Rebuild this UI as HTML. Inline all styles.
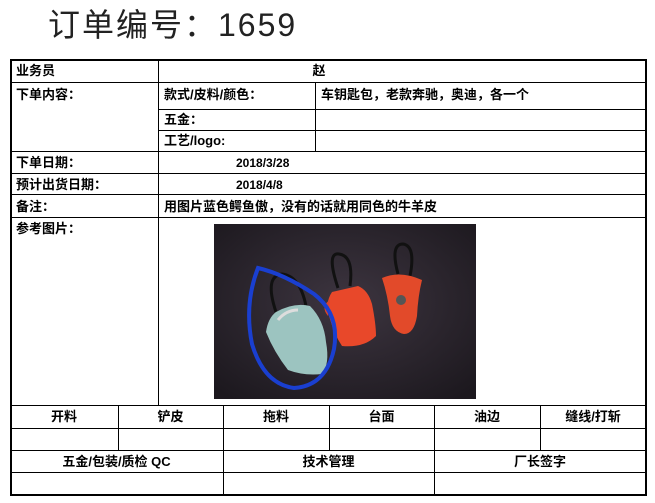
<!DOCTYPE html>
<html><head><meta charset="utf-8"><style>
body{margin:0;width:655px;height:503px;background:#fff;position:relative;overflow:hidden;font-family:"Liberation Sans","Noto Sans CJK SC",sans-serif;color:#000}
.t{position:absolute;left:48px;top:0px;font-size:32px;letter-spacing:2px;color:#222;font-family:"Liberation Sans","Noto Sans CJK SC",sans-serif}
.h{position:absolute;background:#000;height:1px}
.v{position:absolute;background:#000;width:1px}
.l{position:absolute;font-size:13px;font-weight:bold;line-height:16px;white-space:nowrap}
.c{text-align:center}
</style></head><body>
<div class="t">订单编号：1659</div>
<div class="h" style="left:10px;top:59px;width:637px;height:2px"></div>
<div class="h" style="left:10px;top:494px;width:637px;height:2px"></div>
<div class="v" style="left:10px;top:59px;height:437px;width:2px"></div>
<div class="v" style="left:645px;top:59px;height:437px;width:2px"></div>
<div class="h" style="left:10px;top:82px;width:637px"></div>
<div class="h" style="left:158px;top:109px;width:489px"></div>
<div class="h" style="left:158px;top:130px;width:489px"></div>
<div class="h" style="left:10px;top:151px;width:637px"></div>
<div class="h" style="left:10px;top:173px;width:637px"></div>
<div class="h" style="left:10px;top:194px;width:637px"></div>
<div class="h" style="left:10px;top:217px;width:637px"></div>
<div class="h" style="left:10px;top:405px;width:637px"></div>
<div class="h" style="left:10px;top:428px;width:637px"></div>
<div class="h" style="left:10px;top:450px;width:637px"></div>
<div class="h" style="left:10px;top:472px;width:637px"></div>
<div class="v" style="left:158px;top:59px;height:346px"></div>
<div class="v" style="left:315px;top:82px;height:69px"></div>
<div class="v" style="left:118px;top:405px;height:45px"></div>
<div class="v" style="left:223px;top:405px;height:90px"></div>
<div class="v" style="left:329px;top:405px;height:45px"></div>
<div class="v" style="left:434px;top:405px;height:90px"></div>
<div class="v" style="left:540px;top:405px;height:45px"></div>
<div class="l" style="left:16px;top:63px">业务员</div>
<div class="l c" style="left:159px;top:63px;width:320px">赵</div>
<div class="l" style="left:16px;top:87px">下单内容：</div>
<div class="l" style="left:164px;top:87px">款式/皮料/颜色：</div>
<div class="l" style="left:321px;top:87px">车钥匙包，老款奔驰，奥迪，各一个</div>
<div class="l" style="left:164px;top:112px">五金：</div>
<div class="l" style="left:164px;top:133px">工艺/logo:</div>
<div class="l" style="left:16px;top:155px">下单日期：</div>
<div class="l" style="left:236px;top:155px;font-size:12px">2018/3/28</div>
<div class="l" style="left:16px;top:177px">预计出货日期：</div>
<div class="l" style="left:236px;top:177px;font-size:12px">2018/4/8</div>
<div class="l" style="left:16px;top:199px">备注：</div>
<div class="l" style="left:164px;top:199px">用图片蓝色鳄鱼傲，没有的话就用同色的牛羊皮</div>
<div class="l" style="left:16px;top:221px">参考图片：</div>
<div class="l c" style="left:10px;top:409px;width:108px">开料</div>
<div class="l c" style="left:118px;top:409px;width:105px">铲皮</div>
<div class="l c" style="left:223px;top:409px;width:106px">拖料</div>
<div class="l c" style="left:329px;top:409px;width:105px">台面</div>
<div class="l c" style="left:434px;top:409px;width:106px">油边</div>
<div class="l c" style="left:540px;top:409px;width:106px">缝线/打斩</div>
<div class="l c" style="left:10px;top:454px;width:213px">五金/包装/质检 QC</div>
<div class="l c" style="left:223px;top:454px;width:211px">技术管理</div>
<div class="l c" style="left:434px;top:454px;width:212px">厂长签字</div>
<svg style="position:absolute;left:214px;top:224px" width="262" height="175" viewBox="0 0 262 175">
<defs><radialGradient id="g" cx="50%" cy="45%" r="70%"><stop offset="0" stop-color="#3d3540"/><stop offset="1" stop-color="#1c181e"/></radialGradient></defs>
<rect width="262" height="175" fill="url(#g)"/>
<path d="M62 88 Q50 52 68 50 Q86 52 92 82" fill="none" stroke="#111" stroke-width="3"/>
<path d="M124 64 Q112 28 125 30 Q140 32 136 62" fill="none" stroke="#111" stroke-width="3"/>
<path d="M184 50 Q176 20 189 20 Q202 22 196 52" fill="none" stroke="#111" stroke-width="3"/>
<path d="M168 54 Q186 46 208 56 Q204 72 203 92 Q200 110 190 110 Q178 108 176 92 Q174 72 168 54Z" fill="#e24a2a"/>
<circle cx="187" cy="76" r="5" fill="#555"/>
<path d="M118 68 L144 62 Q154 66 158 80 Q162 100 162 112 Q150 124 128 122 Q120 110 116 95 Q110 80 118 68Z" fill="#e8482a"/>
<path d="M114 92 Q106 82 116 76" fill="#d9452a"/>
<path d="M62 88 Q80 78 96 82 Q110 96 112 118 Q116 140 108 150 Q90 152 74 146 Q60 128 52 108 Q54 94 62 88Z" fill="#9cc4c0"/>
<path d="M64 96 Q72 86 84 86" fill="none" stroke="#ddd" stroke-width="3"/>
<path d="M44 44 Q30 80 38 120 Q50 160 80 164 Q112 162 120 125 Q126 90 100 70 Q70 50 44 44Z" fill="none" stroke="#1a3fd0" stroke-width="4"/>
</svg>
</body></html>
